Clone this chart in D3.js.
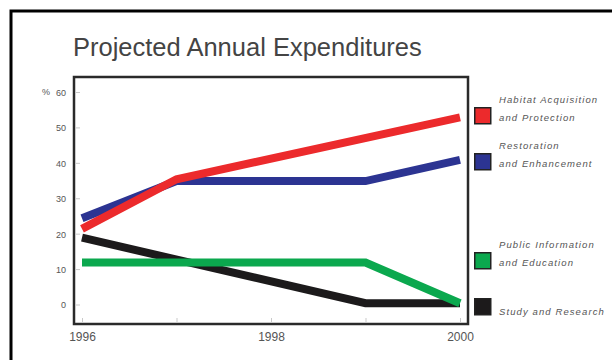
<!DOCTYPE html>
<html>
<head>
<meta charset="utf-8">
<script src="https://cdn.jsdelivr.net/npm/d3@7"></script>
<style>
  html, body { margin: 0; padding: 0; background: #fff; }
  svg { display: block; font-family: "Liberation Sans", Arial, sans-serif; }
</style>
</head>
<body>
<svg id="chart" width="612" height="360"></svg>
<script>
// Chart data
const title = "Projected Annual Expenditures";
const years = [1996, 1997, 1998, 1999, 2000];
const yearLabels = [1996, 1998, 2000];
const percentTicks = [0, 10, 20, 30, 40, 50, 60];

const seriesNames = ["Study and Research", "Public Information and Education", "Restoration and Enhancement", "Habitat Acquisition and Protection"];
const seriesColors = ["#1c1a1b", "#0ba84e", "#2c3492", "#ec2a2c"];

// Breakpoints of each projection (year, percent)
const studyYears = [1996, 1999, 2000];
const studyValues = [19, 0.5, 0.5];
const publicYears = [1996, 1999, 2000];
const publicValues = [12, 12, 0.5];
const restorationYears = [1996, 1997, 1999, 2000];
const restorationValues = [24.5, 35, 35, 41];
const habitatYears = [1996, 1997, 2000];
const habitatValues = [21.5, 35.5, 53];

// Legend entries: text lines per series
const legendLines = [
  ["Habitat Acquisition", "and Protection"],
  ["Restoration", "and Enhancement"],
  ["Public Information", "and Education"],
  ["Study and Research"]
];
const legendColors = ["#ec2a2c", "#2c3492", "#0ba84e", "#1c1a1b"];

const svg = d3.select("#chart");

// Outer frame
svg.append("rect")
  .attr("x", 11).attr("y", 11)
  .attr("width", 640).attr("height", 400)
  .attr("fill", "none").attr("stroke", "#000").attr("stroke-width", 3);

// Title
svg.append("text")
  .attr("x", 73).attr("y", 56)
  .attr("font-size", 25.5)
  .attr("fill", "#444")
  .text(title);

// Plot box
const box = { left: 74, top: 77, right: 468, bottom: 324 };

const x = d3.scaleLinear().domain([1996, 2000]).range([82, 460]);
const y = d3.scaleLinear().domain([0, 60]).range([305, 92.5]);

// Y axis labels
const yAxis = d3.axisLeft(y)
  .tickValues(percentTicks)
  .tickSize(0)
  .tickPadding(0)
  .tickFormat(d3.format("d"));
const gy = svg.append("g").attr("transform", "translate(66,0)").call(yAxis);
gy.select(".domain").remove();
gy.selectAll("text")
  .attr("font-size", 9)
  .attr("font-family", "Liberation Sans, Arial, sans-serif")
  .attr("fill", "#555");

svg.append("text")
  .attr("x", 50).attr("y", y(60))
  .attr("dy", "0.32em")
  .attr("font-size", 9)
  .attr("fill", "#555")
  .attr("text-anchor", "end")
  .text("%");

// Small inner ticks along the left edge
svg.append("g").selectAll("line")
  .data(percentTicks)
  .join("line")
  .attr("x1", box.left + 2).attr("x2", box.left + 6)
  .attr("y1", d => y(d)).attr("y2", d => y(d))
  .attr("stroke", "#bbb").attr("stroke-width", 0.8);

// X axis: ticks every year, labels every other year
const xAxis = d3.axisBottom(x)
  .tickValues(years)
  .tickSizeInner(-4)
  .tickSizeOuter(0)
  .tickPadding(10)
  .tickFormat(d => yearLabels.includes(d) ? String(d) : "");
const gx = svg.append("g").attr("transform", `translate(0,${box.bottom - 2})`).call(xAxis);
gx.select(".domain").remove();
gx.selectAll(".tick line").attr("stroke", "#bbb").attr("stroke-width", 0.8);
gx.selectAll("text")
  .attr("font-size", 12)
  .attr("font-family", "Liberation Sans, Arial, sans-serif")
  .attr("fill", "#555");

// Series lines
const seriesPoints = [
  studyYears.map((yr, i) => [yr, studyValues[i]]),
  publicYears.map((yr, i) => [yr, publicValues[i]]),
  restorationYears.map((yr, i) => [yr, restorationValues[i]]),
  habitatYears.map((yr, i) => [yr, habitatValues[i]])
];

const line = d3.line().x(d => x(d[0])).y(d => y(d[1]));

svg.append("g").selectAll("path")
  .data(seriesPoints)
  .join("path")
  .attr("d", line)
  .attr("fill", "none")
  .attr("stroke", (d, i) => seriesColors[i])
  .attr("stroke-width", 8)
  .attr("stroke-linejoin", "miter")
  .attr("stroke-linecap", "butt");

// Plot frame drawn on top
svg.append("rect")
  .attr("x", box.left).attr("y", box.top)
  .attr("width", box.right - box.left)
  .attr("height", box.bottom - box.top)
  .attr("fill", "none")
  .attr("stroke", "#2a2a2a")
  .attr("stroke-width", 2.5);

// Legend
const legendSwatchY = [107, 153, 252, 298];
const legend = svg.append("g");
legendLines.forEach((lines, i) => {
  const g = legend.append("g").attr("transform", `translate(474,${legendSwatchY[i]})`);
  g.append("rect")
    .attr("x", 0.75).attr("y", 0.75)
    .attr("width", 16).attr("height", 16)
    .attr("fill", legendColors[i])
    .attr("stroke", "#222").attr("stroke-width", 1.5);
  const textTop = lines.length === 1 ? 13 : -8;
  lines.forEach((t, j) => {
    g.append("text")
      .attr("x", 25)
      .attr("y", textTop + j * 18 + 3.5)
      .attr("font-size", 9.5)
      .attr("letter-spacing", 1.1)
      .attr("font-style", "italic")
      .attr("fill", "#555")
      .text(t);
  });
});
</script>
</body>
</html>
